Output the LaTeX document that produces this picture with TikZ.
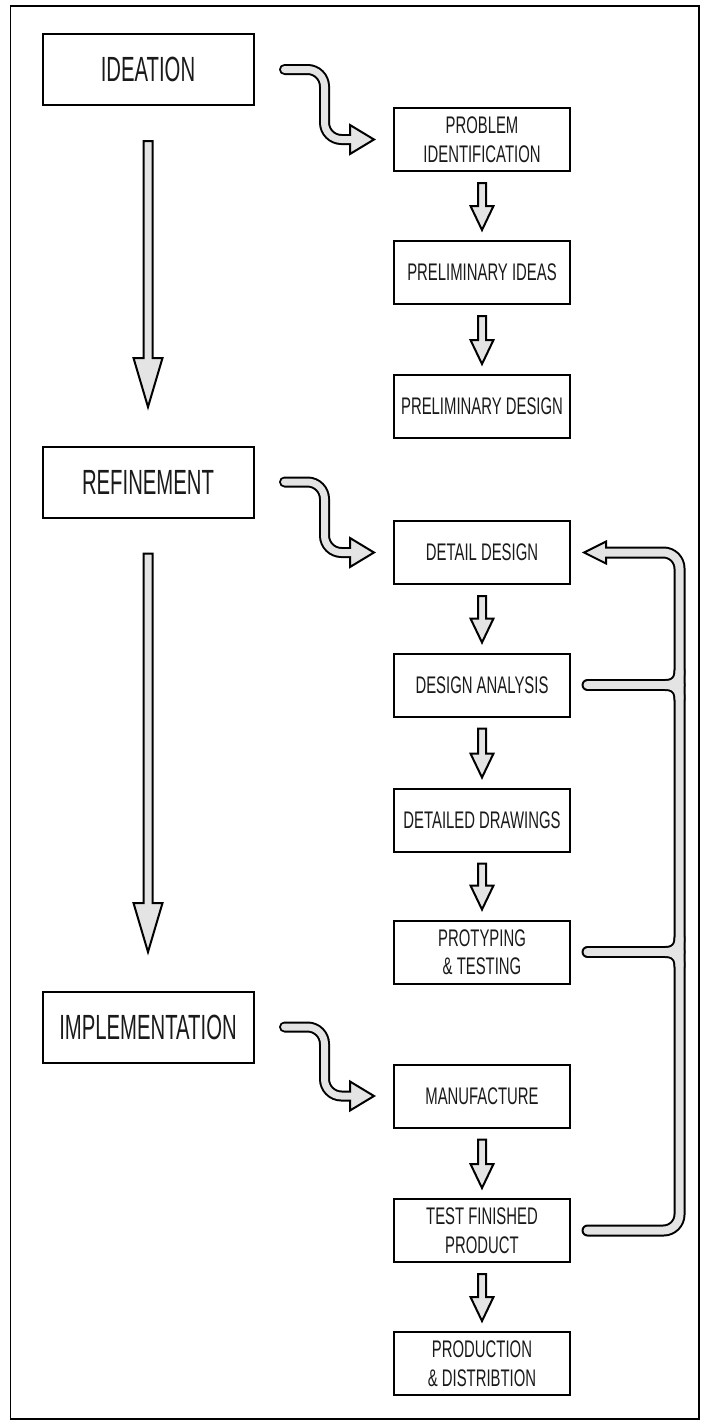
\documentclass[tikz,border=0pt]{standalone}
\usepackage{fontspec}
\setmainfont{Liberation Sans}[FakeStretch=0.62]
\newfontfamily\bigfont{Liberation Sans}[FakeStretch=0.58]
\usetikzlibrary{calc}
\definecolor{fillgray}{HTML}{E4E4E4}
\definecolor{txt}{HTML}{1A1A1A}
\tikzset{
 bigbox/.style={draw, line width=2pt, minimum width=211pt, minimum height=71pt, inner sep=0pt, text=txt, font=\bigfont\fontsize{35}{40}\selectfont},
 smallbox/.style={draw, line width=2pt, minimum width=176pt, minimum height=63pt, inner sep=0pt, align=center, text=txt, font=\fontsize{24}{28.5}\selectfont},
 arrowshape/.style={draw, line width=2pt, fill=fillgray, line join=miter},
 pipeout/.style={draw=black, line width=12pt, line cap=round, rounded corners=16pt},
 pipein/.style={draw=fillgray, line width=8pt, line cap=round, rounded corners=16pt},
 spipeout/.style={draw=black, line width=11pt, line cap=round, rounded corners=17pt},
 spipein/.style={draw=fillgray, line width=7pt, line cap=round, rounded corners=17pt},
}
\newcommand\dnarrow[2]{%
 \path[arrowshape] let \p1=(#1.south), \p2=(#2.north) in
  ({\x1-4pt},{\y1-11pt}) -- ({\x1+4pt},{\y1-11pt}) -- ({\x1+4pt},{\y2+34pt}) -- ({\x1+11.5pt},{\y2+34pt}) -- ({\x1},{\y2+10pt}) -- ({\x1-11.5pt},{\y2+34pt}) -- ({\x1-4pt},{\y2+34pt}) -- cycle;}
\newcommand\bigdown[2]{%
 \path[arrowshape] let \p1=(#1.south), \p2=(#2.north) in
  ({\x1-4.5pt},{\y1-35pt}) -- ({\x1+4.5pt},{\y1-35pt}) -- ({\x1+4.5pt},{\y2+87.5pt}) -- ({\x1+14.5pt},{\y2+87.5pt}) -- ({\x1},{\y2+38.5pt}) -- ({\x1-14.5pt},{\y2+87.5pt}) -- ({\x1-4.5pt},{\y2+87.5pt}) -- cycle;}
\newcommand\sarrow[2]{%
 \path[spipeout] let \p1=($(#1.east)+(30,0)$), \p2=($(#2.west)+(-19,0)$) in
  (\p1) -- ({\x1+40pt},\y1) -- ({\x1+40pt},\y2) -- ({\x2-24pt},\y2);
 \path[arrowshape] let \p2=($(#2.west)+(-19,0)$) in
  ({\x2-24pt},{\y2+14.5pt}) -- (\p2) -- ({\x2-24pt},{\y2-14.5pt}) -- cycle;
 \path[spipein] let \p1=($(#1.east)+(30,0)$), \p2=($(#2.west)+(-19,0)$) in
  (\p1) -- ({\x1+40pt},\y1) -- ({\x1+40pt},\y2) -- ({\x2-20pt},\y2);}
\begin{document}
\begin{tikzpicture}[x=1pt,y=-1pt]
\useasboundingbox (0,0) rectangle (704,1424);
\draw[line width=1.5pt] (10.5,6) rectangle (699,1419);
% left column
\node[bigbox] (ideation) at (148,69.5) {IDEATION};
\node[bigbox] (refine) at (148,482) {REFINEMENT};
\node[bigbox] (impl) at (148,1027) {IMPLEMENTATION};
% right column
\node[smallbox] (pi) at (482,139.5) {PROBLEM\\IDENTIFICATION};
\node[smallbox] (pid) at (482,272.5) {PRELIMINARY IDEAS};
\node[smallbox] (pd) at (482,406.5) {PRELIMINARY DESIGN};
\node[smallbox] (dd) at (482,552.5) {DETAIL DESIGN};
\node[smallbox] (da) at (482,685) {DESIGN ANALYSIS};
\node[smallbox] (ddr) at (482,820) {DETAILED DRAWINGS};
\node[smallbox] (pt) at (482,952) {PROTYPING\\\& TESTING};
\node[smallbox] (man) at (482,1096) {MANUFACTURE};
\node[smallbox] (tfp) at (482,1230.5) {TEST FINISHED\\PRODUCT};
\node[smallbox] (pdist) at (482,1363.5) {PRODUCTION\\\& DISTRIBTION};
% big vertical arrows
\bigdown{ideation}{refine}
\bigdown{refine}{impl}
% small arrows
\dnarrow{pi}{pid}
\dnarrow{pid}{pd}
\dnarrow{dd}{da}
\dnarrow{da}{ddr}
\dnarrow{ddr}{pt}
\dnarrow{man}{tfp}
\dnarrow{tfp}{pdist}
% S arrows
\sarrow{ideation}{pi}
\sarrow{refine}{dd}
\sarrow{impl}{man}
% feedback bracket
\coordinate (ddtip) at ($(dd.east)+(13,0)$);
\coordinate (ddin) at ($(dd.east)+(35,0)$);
\coordinate (ddin2) at ($(dd.east)+(31,0)$);
\coordinate (bustop) at ($(dd.east)+(108.5,0)$);
\coordinate (busbot) at (bustop |- tfp.east);
\coordinate (tfpout) at ($(tfp.east)+(16.5,0)$);
\coordinate (daout) at ($(da.east)+(16.5,0)$);
\coordinate (dajoin) at (bustop |- da.east);
\coordinate (ptout) at ($(pt.east)+(16.5,0)$);
\coordinate (ptjoin) at (bustop |- pt.east);
\draw[pipeout] (ddin) -- (bustop) -- (busbot) -- (tfpout);
\draw[pipeout] (daout) -- (dajoin);
\draw[pipeout] (ptout) -- (ptjoin);
\foreach \j in {dajoin,ptjoin}{
 \draw[pipeout,rounded corners=0pt] ($(\j)+(-14,0)$) .. controls ($(\j)+(-5,0)$) and ($(\j)+(0,-5)$) .. ($(\j)+(0,-14)$);
 \draw[pipeout,rounded corners=0pt] ($(\j)+(-14,0)$) .. controls ($(\j)+(-5,0)$) and ($(\j)+(0,5)$) .. ($(\j)+(0,14)$);
}
\path[arrowshape] ($(ddin)+(0,-11)$) -- (ddtip) -- ($(ddin)+(0,11)$) -- cycle;
\draw[pipein] (ddin2) -- (bustop) -- (busbot) -- (tfpout);
\draw[pipein] (daout) -- (dajoin);
\draw[pipein] (ptout) -- (ptjoin);
\foreach \j in {dajoin,ptjoin}{
 \draw[pipein,rounded corners=0pt] ($(\j)+(-14,0)$) .. controls ($(\j)+(-5,0)$) and ($(\j)+(0,-5)$) .. ($(\j)+(0,-14)$);
 \draw[pipein,rounded corners=0pt] ($(\j)+(-14,0)$) .. controls ($(\j)+(-5,0)$) and ($(\j)+(0,5)$) .. ($(\j)+(0,14)$);
}
\end{tikzpicture}
\end{document}
